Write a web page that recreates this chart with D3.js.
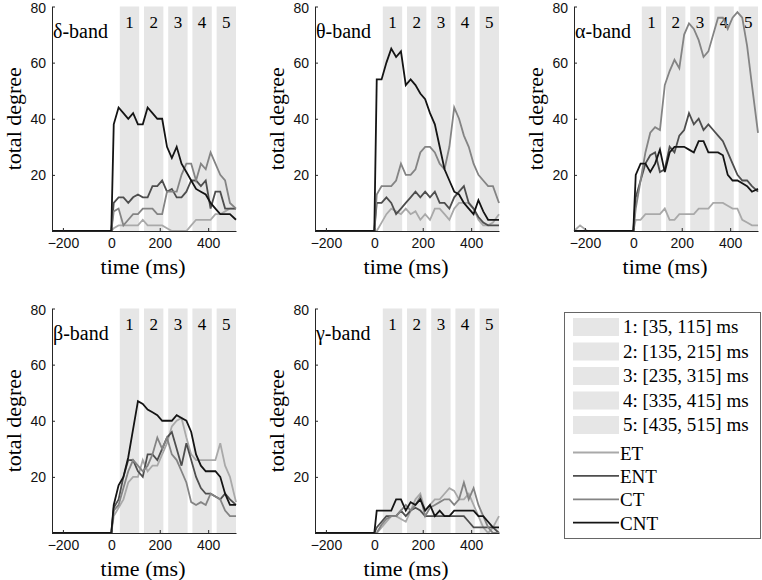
<!DOCTYPE html>
<html>
<head>
<meta charset="utf-8">
<script src="https://cdn.jsdelivr.net/npm/d3@7"></script>
<style>
  body { margin: 0; background: #fff; }
  svg { display: block; }
</style>
</head>
<body>
<script>
// time samples (ms), shared by every series
var times = [-245, -220, -190, 0, 10, 30, 50, 70, 90, 110, 130, 150, 170, 190, 210,
             230, 250, 270, 290, 310, 330, 350, 370, 390, 410, 430, 450, 470, 490, 515];

// delta band
var deltaET  = [0,0,0,0, 1,2,2,2,2,2,4,2,2,2,2,1,0,0,0,0,2,4,4,4,4,6,6,7,8,8];
var deltaENT = [0,0,0,0, 10,12,12,10,12,13,12,12,16,16,18,14,15,12,12,14,18,18,16,18,8,14,14,8,8,8];
var deltaCT  = [0,0,0,0, 7,8,2,4,6,6,8,8,8,6,6,14,14,14,20,24,24,18,24,22,28,24,20,18,10,8];
var deltaCNT = [0,0,0,0, 38,44,42,40,42,38,38,44,42,40,40,30,26,30,24,21,18,15,14,13,10,8,6,6,6,4];

// theta band
var thetaET  = [0,0,0,0, 0,3,6,8,7,6,8,6,7,4,6,4,8,8,6,4,8,10,10,10,8,4,2,2,3,6];
var thetaENT = [0,0,0,0, 10,10,12,10,6,8,10,12,14,12,14,12,14,10,10,8,12,14,16,10,8,5,3,2,2,2];
var thetaCT  = [0,0,0,0, 13,16,16,16,18,24,20,20,22,28,30,30,28,24,22,30,44,40,34,30,24,20,18,16,16,10];
var thetaCNT = [0,0,0,0, 54,54,60,65,62,64,52,54,52,49,47,42,38,30,22,18,14,13,10,8,6,11,7,4,4,4];

// alpha band
var alphaET  = [0,2,0,0, 4,4,6,6,6,6,8,4,4,6,6,6,6,8,8,8,10,10,10,9,8,8,4,3,2,2];
var alphaENT = [0,0,0,0, 12,18,24,27,28,21,22,30,28,34,36,42,38,40,36,38,36,34,32,28,24,20,18,18,16,14];
var alphaCT  = [0,0,0,0, 8,18,28,35,37,36,52,57,61,58,70,74,72,68,62,64,70,76,76,72,76,78,76,66,52,35];
var alphaCNT = [0,0,0,0, 20,24,24,21,24,29,21,28,30,30,30,29,28,32,32,28,28,28,27,20,18,18,17,16,14,15];

// beta band
var betaET  = [0,0,0,0, 6,9,12,18,20,20,26,22,24,24,28,32,38,40,41,34,28,26,26,26,26,26,32,24,20,11];
var betaENT = [0,0,0,0, 9,12,20,26,26,22,20,28,28,26,30,34,36,30,24,32,26,20,16,14,14,13,12,14,12,10];
var betaCT  = [0,0,0,0, 8,10,16,22,26,24,22,24,28,34,30,34,28,26,22,18,11,10,11,10,14,13,12,8,6,6];
var betaCNT = [0,0,0,0, 10,17,20,27,37,47,46,44,43,42,40,40,40,42,41,40,36,28,24,22,22,22,20,14,10,10];

// gamma band
var gammaET  = [0,0,0,0, 0,2,4,6,6,5,4,8,12,14,8,10,12,12,14,16,15,12,12,14,10,6,2,0,2,6];
var gammaENT = [0,0,0,0, 2,4,6,6,6,8,6,8,9,8,6,6,6,6,6,6,6,6,6,4,2,2,2,2,2,0];
var gammaCT  = [0,0,0,0, 0,3,5,6,6,8,10,8,10,13,6,9,10,11,12,12,10,12,18,12,16,10,6,2,0,0];
var gammaCNT = [0,0,0,0, 8,8,8,8,12,12,8,11,10,12,8,10,6,8,6,6,8,8,8,8,8,6,6,4,2,2];

var seriesNames = ['ET', 'ENT', 'CT', 'CNT'];
var bandStarts = [35, 135, 235, 335, 435];
var bandLabels = ['1', '2', '3', '4', '5'];
var bandLegend = ['1: [35, 115] ms', '2: [135, 215] ms', '3: [235, 315] ms', '4: [335, 415] ms', '5: [435, 515] ms'];
var xTicks = [-200, 0, 200, 400];
var yTicks = [20, 40, 60, 80];

var panels = [
  {label: 'δ-band', series: [deltaET, deltaENT, deltaCT, deltaCNT], left: 52, top: 6.5},
  {label: 'θ-band', series: [thetaET, thetaENT, thetaCT, thetaCNT], left: 315, top: 6.5},
  {label: 'α-band', series: [alphaET, alphaENT, alphaCT, alphaCNT], left: 574, top: 6.5},
  {label: 'β-band', series: [betaET, betaENT, betaCT, betaCNT], left: 52, top: 308.5},
  {label: 'γ-band', series: [gammaET, gammaENT, gammaCT, gammaCNT], left: 315, top: 308.5}
];

var colors = ['#a9a9a9', '#4e4e4e', '#848484', '#141414'];
var bandFill = '#e6e6e6';
var serif = '"Liberation Serif", "Times New Roman", serif';
var sans = '"Liberation Sans", Arial, sans-serif';
var pw = 184, ph = 224.5;

var svg = d3.select('body').append('svg')
            .attr('width', 762)
            .attr('height', 580);

panels.forEach(function(p){
  var x = d3.scaleLinear().domain([-245, 515]).range([p.left, p.left + pw]);
  var y = d3.scaleLinear().domain([0, 80]).range([p.top + ph, p.top]);
  var g = svg.append('g').classed('panel', true);

  g.selectAll('rect')
   .data(bandStarts)
   .enter()
   .append('rect')
   .attr('x', function(d){ return x(d); })
   .attr('width', function(d){ return x(d + 80) - x(d); })
   .attr('y', y(80))
   .attr('height', y(0) - y(80))
   .attr('fill', bandFill);

  g.selectAll('text.bandnum')
   .data(bandStarts)
   .enter()
   .append('text')
   .classed('bandnum', true)
   .attr('x', function(d){ return x(d + 40); })
   .attr('y', p.top + 21.5)
   .attr('text-anchor', 'middle')
   .style('font-family', serif)
   .style('font-size', '17px')
   .text(function(d, i){ return bandLabels[i]; });

  var line = d3.line()
               .x(function(d, i){ return x(times[i]); })
               .y(function(d){ return y(d); });

  g.selectAll('path.series')
   .data(p.series)
   .enter()
   .append('path')
   .classed('series', true)
   .attr('d', line)
   .attr('fill', 'none')
   .attr('stroke', function(d, i){ return colors[i]; })
   .attr('stroke-width', 1.8);

  var yAxis = d3.axisLeft(y).tickValues(yTicks).tickSize(-3).tickSizeOuter(0).tickPadding(6);
  var xAxis = d3.axisBottom(x).tickValues(xTicks).tickSize(-3).tickSizeOuter(0).tickPadding(7);

  g.append('g')
   .attr('transform', 'translate(' + p.left + ',0)')
   .style('color', '#262626')
   .call(yAxis)
   .call(function(a){
     a.selectAll('text').style('font-family', sans).style('font-size', '14px').attr('fill', '#111');
     // keep the top label inside the picture
     a.selectAll('.tick').filter(function(d){ return d === 80; }).select('text').attr('dy', '0.45em');
   });

  g.append('g')
   .attr('transform', 'translate(0,' + (p.top + ph) + ')')
   .style('color', '#262626')
   .call(xAxis)
   .call(function(a){ a.selectAll('text').style('font-family', sans).style('font-size', '14px').attr('fill', '#111'); });

  g.append('text')
   .attr('x', p.left + 1)
   .attr('y', p.top + 31)
   .style('font-family', serif)
   .style('font-size', '20px')
   .text(p.label);

  g.append('text')
   .attr('x', p.left + pw / 2 - 1)
   .attr('y', p.top + ph + 42.5)
   .attr('text-anchor', 'middle')
   .style('font-family', serif)
   .style('font-size', '22px')
   .text('time (ms)');

  g.append('text')
   .attr('transform', 'translate(' + (p.left - 31) + ',' + (p.top + ph / 2) + ') rotate(-90)')
   .attr('text-anchor', 'middle')
   .style('font-family', serif)
   .style('font-size', '22px')
   .text('total degree');
});

// legend
var legend = svg.append('g').classed('legend', true);
legend.append('rect')
      .attr('x', 564.5).attr('y', 312.5)
      .attr('width', 196).attr('height', 226)
      .attr('fill', '#fff')
      .attr('stroke', '#666')
      .attr('stroke-width', 1);

legend.selectAll('rect.sw')
      .data(bandLegend)
      .enter()
      .append('rect')
      .classed('sw', true)
      .attr('x', 573)
      .attr('y', function(d, i){ return 318 + i * 24.5; })
      .attr('width', 46)
      .attr('height', 18)
      .attr('fill', bandFill);

legend.selectAll('text.bl')
      .data(bandLegend)
      .enter()
      .append('text')
      .classed('bl', true)
      .attr('x', 623)
      .attr('y', function(d, i){ return 333 + i * 24.5; })
      .style('font-family', serif)
      .style('font-size', '19px')
      .text(function(d){ return d; });

legend.selectAll('line.sl')
      .data(seriesNames)
      .enter()
      .append('line')
      .classed('sl', true)
      .attr('x1', 573).attr('x2', 619)
      .attr('y1', function(d, i){ return 452.5 + i * 23.4; })
      .attr('y2', function(d, i){ return 452.5 + i * 23.4; })
      .attr('stroke', function(d, i){ return colors[i]; })
      .attr('stroke-width', 1.8);

legend.selectAll('text.sn')
      .data(seriesNames)
      .enter()
      .append('text')
      .classed('sn', true)
      .attr('x', 620)
      .attr('y', function(d, i){ return 459.5 + i * 23.4; })
      .style('font-family', serif)
      .style('font-size', '19px')
      .text(function(d){ return d; });
</script>
</body>
</html>
